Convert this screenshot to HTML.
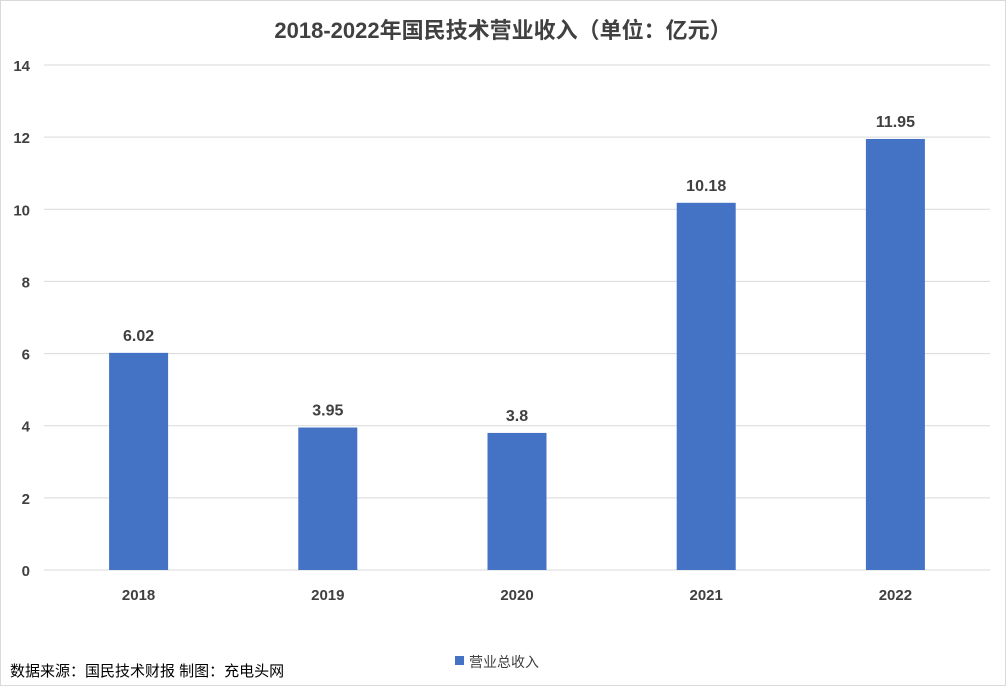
<!DOCTYPE html>
<html><head><meta charset="utf-8"><style>
body{margin:0;background:#fff;}
svg text{font-family:"Liberation Sans","Noto Sans CJK SC",sans-serif;}
</style></head><body>
<svg width="1006" height="686" viewBox="0 0 1006 686">
<rect x="0.5" y="0.5" width="1005" height="685" fill="#fff" stroke="#d9d9d9"/>
<text x="503" y="38" text-anchor="middle" font-size="22" font-weight="bold" fill="#404040">2018-2022年国民技术营业收入（单位：亿元）</text>
<g id="grid"></g><g id="bars"></g><g id="labels"></g>
<text x="10" y="676" font-size="15" fill="#000">数据来源：国民技术财报  制图：充电头网</text>
<rect x="455" y="656" width="9" height="9" fill="#4472c4"/>
<text x="469" y="667" font-size="14" fill="#404040">营业总收入</text>
</svg>
<script>
const categories=["2018","2019","2020","2021","2022"];
const values=[6.02,3.95,3.8,10.18,11.95];
const valueLabels=["6.02","3.95","3.8","10.18","11.95"];
const yTicks=[0,2,4,6,8,10,12,14];
const NS="http://www.w3.org/2000/svg";
const x0=44,x1=990,yb=570,yt=65,maxV=14;
const y=v=>yb-(v/maxV)*(yb-yt);
const band=(x1-x0)/categories.length;
const xc=i=>x0+band*(i+0.5);
function mk(t,a,p){const e=document.createElementNS(NS,t);for(const k in a)e.setAttribute(k,a[k]);p.appendChild(e);return e;}
const g=document.getElementById('grid'),b=document.getElementById('bars'),l=document.getElementById('labels');
yTicks.forEach(v=>{
 const ln=mk('line',{x1:x0,x2:x1,y1:y(v),y2:y(v),stroke:'#d9d9d9','stroke-width':1},g);
 
 
 const t=mk('text',{x:30,y:y(v)+6,'text-anchor':'end','font-size':15,'font-weight':'bold',fill:'#404040'},g);
 t.textContent=v;
 
 
});
categories.forEach((c,i)=>{
 const w=59;
 const r=mk('rect',{x:xc(i)-w/2,y:y(values[i]),width:w,height:yb-y(values[i]),fill:'#4472c4'},b);
 
 
 const vt=mk('text',{x:xc(i),y:y(values[i])-12,'text-anchor':'middle','font-size':16,'font-weight':'bold',fill:'#404040'},l);
 vt.textContent=valueLabels[i];
 
 
 const ct=mk('text',{x:xc(i),y:600,'text-anchor':'middle','font-size':15,'font-weight':'bold',fill:'#404040'},l);
 ct.textContent=c;
 
 
});
</script>
</body></html>
